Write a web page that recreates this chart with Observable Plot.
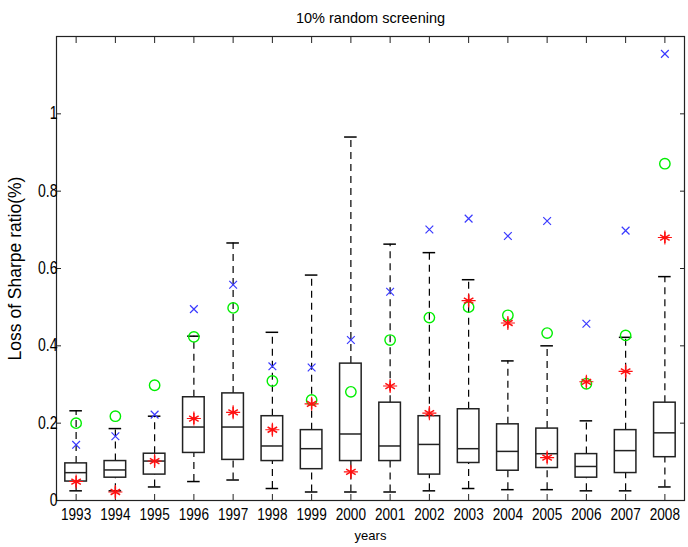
<!DOCTYPE html>
<html>
<head>
<meta charset="utf-8">
<script src="https://cdn.jsdelivr.net/npm/d3@7"></script>
<script src="https://cdn.jsdelivr.net/npm/@observablehq/plot@0.6"></script>
<style>
  html, body { margin: 0; padding: 0; background: #fff; }
  #chart svg { display: block; }
</style>
</head>
<body>
<div id="chart"></div>
<script>
const titleText = "10% random screening";
const xLabel = "years";
const yLabel = "Loss of Sharpe ratio(%)";
const years = [1993,1994,1995,1996,1997,1998,1999,2000,2001,2002,2003,2004,2005,2006,2007,2008];
const whiskerHigh = [0.232,0.186,0.218,0.425,0.666,0.435,0.583,0.940,0.663,0.641,0.571,0.361,0.400,0.206,0.422,0.579];
const q3 =          [0.096,0.102,0.121,0.267,0.277,0.218,0.182,0.354,0.253,0.218,0.236,0.197,0.186,0.120,0.182,0.253];
const median =      [0.072,0.079,0.102,0.190,0.190,0.141,0.134,0.172,0.141,0.145,0.134,0.127,0.121,0.088,0.129,0.175];
const q1 =          [0.049,0.059,0.067,0.123,0.105,0.102,0.081,0.102,0.102,0.067,0.097,0.077,0.084,0.059,0.071,0.112];
const whiskerLow =  [0.025,0.025,0.035,0.049,0.053,0.031,0.022,0.022,0.022,0.025,0.031,0.028,0.028,0.025,0.025,0.035];
const greenCircle = [0.200,0.218,0.298,0.423,0.498,0.309,0.260,0.281,0.415,0.473,0.500,0.479,0.433,0.302,0.427,0.871];
const blueCross =   [0.144,0.166,0.222,0.495,0.558,0.347,0.344,0.415,0.540,0.701,0.729,0.684,0.723,0.457,0.698,1.155];
const redStar =     [0.049,0.022,0.102,0.212,0.228,0.183,0.250,0.074,0.296,0.226,0.517,0.459,0.111,0.307,0.334,0.680];
const yTicks = [0, 0.2, 0.4, 0.6, 0.8, 1];

const boxHalf = 0.275;
const capHalf = 0.16;

const rows = years.map((y, k) => ({
  pos: k + 1, year: y,
  lo: whiskerLow[k], q1: q1[k], med: median[k], q3: q3[k], hi: whiskerHigh[k],
  g: greenCircle[k], b: blueCross[k], r: redStar[k]
}));

const font = "'Liberation Sans', Arial, sans-serif";

const chart = Plot.plot({
  width: 688,
  height: 547,
  marginLeft: 56,
  marginRight: 4,
  marginTop: 36,
  marginBottom: 47,
  style: { fontFamily: font, fontSize: "16px", color: "#000", background: "#fff" },
  x: { type: "linear", domain: [0.5, 16.5] },
  y: { domain: [0, 1.2] },
  marks: [
    Plot.frame({ stroke: "#222", strokeWidth: 1.2 }),
    Plot.axisX({ anchor: "bottom", ticks: rows.map(d => d.pos), tickFormat: i => String(years[i - 1]), tickSize: -6, tickPadding: 13, label: null, stroke: "#222", fontSize: 17 }),
    Plot.axisX({ anchor: "top", ticks: rows.map(d => d.pos), tickFormat: () => "", tickSize: -6, tickPadding: 0, label: null, stroke: "#222" }),
    Plot.axisY({ anchor: "left", ticks: yTicks, tickFormat: v => String(v), tickSize: -5, tickPadding: 4, label: null, stroke: "#222", fontSize: 17.5 }),
    Plot.axisY({ anchor: "right", ticks: yTicks, tickFormat: () => "", tickSize: -5, tickPadding: 0, label: null, stroke: "#222" }),
    // whiskers (dashed)
    Plot.ruleX(rows, { x: "pos", y1: "q3", y2: "hi", stroke: "#000", strokeDasharray: "7,5", strokeWidth: 1.2 }),
    Plot.ruleX(rows, { x: "pos", y1: "lo", y2: "q1", stroke: "#000", strokeDasharray: "7,5", strokeWidth: 1.2 }),
    // whisker caps
    Plot.ruleY(rows, { y: "hi", x1: d => d.pos - capHalf, x2: d => d.pos + capHalf, stroke: "#000", strokeWidth: 1.5 }),
    Plot.ruleY(rows, { y: "lo", x1: d => d.pos - capHalf, x2: d => d.pos + capHalf, stroke: "#000", strokeWidth: 1.5 }),
    // boxes
    Plot.rect(rows, { x1: d => d.pos - boxHalf, x2: d => d.pos + boxHalf, y1: "q1", y2: "q3", fill: "none", stroke: "#222", strokeWidth: 1.5 }),
    Plot.ruleY(rows, { y: "med", x1: d => d.pos - boxHalf, x2: d => d.pos + boxHalf, stroke: "#222", strokeWidth: 1.5 }),
    // markers
    Plot.dot(rows, { x: "pos", y: "g", symbol: "circle", r: 5.2, stroke: "#00ee00", strokeWidth: 1.4, fill: "none" }),
    Plot.dot(rows, { x: "pos", y: "b", symbol: "times", r: 3.6, stroke: "#3a3aff", strokeWidth: 1.2 }),
    Plot.dot(rows, { x: "pos", y: "r", symbol: "asterisk", r: 5.2, stroke: "#ff1010", strokeWidth: 1.5 }),
    Plot.dot(rows, { x: "pos", y: "r", symbol: "plus", r: 4.6, stroke: "#ff1010", strokeWidth: 1.1 }),
    // titles
    Plot.text([titleText], { frameAnchor: "top", dy: -24, text: d => d, fontSize: 14.5, fill: "#000" }),
    Plot.text([xLabel], { frameAnchor: "bottom", dy: 39, text: d => d, fontSize: 13, fill: "#000" }),
    Plot.text([yLabel], { frameAnchor: "left", textAnchor: "middle", dx: -41, rotate: -90, text: d => d, fontSize: 17.5, fill: "#000" })
  ]
});

// condense tick labels horizontally (MATLAB-like narrow glyphs)
chart.querySelectorAll('g[aria-label="x-axis tick label"] text, g[aria-label="y-axis tick label"] text').forEach(t => {
  const tr = t.getAttribute("transform");
  if (tr) {
    t.setAttribute("transform", tr + " scale(0.8,1)");
  } else {
    const x = +t.getAttribute("x") || 0, y = +t.getAttribute("y") || 0;
    t.setAttribute("x", 0); t.setAttribute("y", 0);
    t.setAttribute("transform", `translate(${x},${y}) scale(0.8,1)`);
  }
});

document.getElementById("chart").appendChild(chart);
</script>
</body>
</html>
